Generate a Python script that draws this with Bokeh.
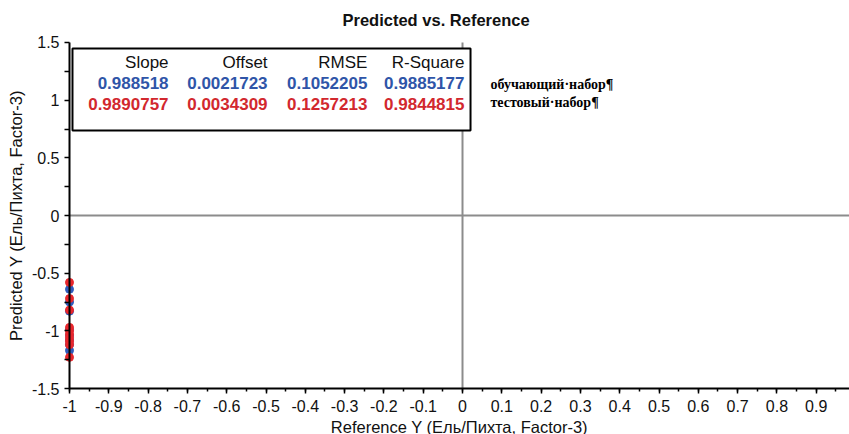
from bokeh.plotting import figure
from bokeh.models import FixedTicker, BoxAnnotation, Label
from bokeh.embed import file_html
from bokeh.resources import INLINE

# ---------------- data ----------------
title_text = "Predicted vs. Reference"
x_label = "Reference Y (Ель/Пихта, Factor-3)"
y_label = "Predicted Y (Ель/Пихта, Factor-3)"

x_ticks = [-1.0, -0.9, -0.8, -0.7, -0.6, -0.5, -0.4, -0.3, -0.2, -0.1,
           0.0, 0.1, 0.2, 0.3, 0.4, 0.5, 0.6, 0.7, 0.8, 0.9]
x_tick_labels = ["-1", "-0.9", "-0.8", "-0.7", "-0.6", "-0.5", "-0.4", "-0.3", "-0.2", "-0.1",
                 "0", "0.1", "0.2", "0.3", "0.4", "0.5", "0.6", "0.7", "0.8", "0.9"]
y_ticks = [-1.5, -1.0, -0.5, 0.0, 0.5, 1.0, 1.5]
y_tick_labels = ["-1.5", "-1", "-0.5", "0", "0.5", "1", "1.5"]

train_ref = [-1.0, -1.0, -1.0, -1.0, -1.0, -1.0, -1.0, -1.0]
train_pred = [-0.64, -0.75, -0.83, -0.99, -1.04, -1.08, -1.12, -1.17]
test_ref = [-1.0, -1.0, -1.0, -1.0, -1.0, -1.0, -1.0, -1.0, -1.0, -1.0]
test_pred = [-0.58, -0.72, -0.82, -0.97, -1.00, -1.03, -1.06, -1.09, -1.12, -1.23]

stat_names = ["Slope", "Offset", "RMSE", "R-Square"]
train_stats = ["0.988518", "0.0021723", "0.1052205", "0.9885177"]
test_stats = ["0.9890757", "0.0034309", "0.1257213", "0.9844815"]
set_names = ["обучающий·набор¶", "тестовый·набор¶"]

# ---------------- style ----------------
SANS = "Liberation Sans"
SERIF = "Liberation Serif"
BLUE = "#2f55a8"
RED = "#d2282e"
MBLUE = "#2f5bbd"
MRED = "#e8262c"

# the frame extends beyond the axes so that the axes (placed at fixed
# data locations) keep their labels inside the drawable frame
X_START, X_END = -1.1654, 0.9847
Y_START, Y_END = -1.8988, 1.5867
X_AXIS_MIN, Y_AXIS_MIN, Y_AXIS_MAX = -1.0, -1.5, 1.5

p = figure(width=849, height=434, x_range=(X_START, X_END), y_range=(Y_START, Y_END),
           output_backend="svg", toolbar_location=None,
           min_border_left=4, min_border_right=0, min_border_top=32, min_border_bottom=0)
p.outline_line_color = None
p.grid.visible = False
p.background_fill_color = "white"

p.title.text = title_text
p.title.text_font = SANS
p.title.text_font_size = "16.5px"
p.title.text_font_style = "bold"
p.title.text_color = "#111111"
p.title.align = "left"
p.title.offset = 338
p.title.standoff = 8

# x axis
xa = p.xaxis[0]
xa.fixed_location = Y_AXIS_MIN
xa.ticker = FixedTicker(ticks=x_ticks,
                        minor_ticks=[round(-1 + 0.05 * i, 2) for i in range(40)])
xa.major_label_overrides = dict(zip(x_ticks, x_tick_labels))
xa.bounds = (X_AXIS_MIN, X_END)
xa.axis_line_width = 2
xa.axis_line_color = "black"
xa.major_tick_in = 0
xa.major_tick_out = 5
xa.minor_tick_in = 0
xa.minor_tick_out = 3
xa.major_tick_line_width = 1.5
xa.minor_tick_line_width = 1.5
xa.major_label_text_font = SANS
xa.major_label_text_font_size = "16px"
xa.major_label_text_color = "#111111"
xa.major_label_standoff = 6
xa.axis_label = x_label
xa.axis_label_text_font = SANS
xa.axis_label_text_font_size = "16.5px"
xa.axis_label_text_font_style = "normal"
xa.axis_label_text_color = "#111111"
xa.axis_label_standoff = 3

# y axis
ya = p.yaxis[0]
ya.fixed_location = X_AXIS_MIN
ya.ticker = FixedTicker(ticks=y_ticks,
                        minor_ticks=[-1.25, -0.75, -0.25, 0.25, 0.75, 1.25])
ya.major_label_overrides = dict(zip(y_ticks, y_tick_labels))
ya.bounds = (Y_AXIS_MIN, Y_AXIS_MAX)
ya.axis_line_width = 2
ya.axis_line_color = "black"
ya.major_tick_in = 0
ya.major_tick_out = 5
ya.minor_tick_in = 0
ya.minor_tick_out = 5
ya.major_tick_line_width = 1.5
ya.minor_tick_line_width = 1.5
ya.major_label_text_font = SANS
ya.major_label_text_font_size = "16px"
ya.major_label_text_color = "#111111"
ya.major_label_standoff = 5
ya.axis_label = y_label
ya.axis_label_text_font = SANS
ya.axis_label_text_font_size = "16.5px"
ya.axis_label_text_font_style = "normal"
ya.axis_label_text_color = "#111111"
ya.axis_label_standoff = 4

# reference lines
p.segment(x0=[0.0], y0=[Y_AXIS_MIN], x1=[0.0], y1=[Y_AXIS_MAX], line_color="#8c8c8c", line_width=2)
p.segment(x0=[X_AXIS_MIN], y0=[0.0], x1=[X_END], y1=[0.0], line_color="#8c8c8c", line_width=2)

# points
p.scatter(train_ref, train_pred, size=8, color=MBLUE, line_color=MBLUE)
p.scatter(test_ref, test_pred, size=8, color=MRED, line_color=MRED)

# statistics box
p.add_layout(BoxAnnotation(left=-0.9924, right=0.0204, top=1.448, bottom=0.737,
                           fill_color="white", fill_alpha=1.0,
                           line_color="black", line_alpha=1.0, line_width=2))

col_right = [-0.748, -0.496, -0.242, 0.005]
row_y = [1.327, 1.153, 0.963]
for i, name in enumerate(stat_names):
    p.add_layout(Label(x=col_right[i], y=row_y[0], text=name, text_align="right",
                       text_baseline="middle", text_font=SANS, text_font_size="17px",
                       text_color="#111111"))
    p.add_layout(Label(x=col_right[i], y=row_y[1], text=train_stats[i], text_align="right",
                       text_baseline="middle", text_font=SANS, text_font_size="17px",
                       text_font_style="bold", text_color=BLUE))
    p.add_layout(Label(x=col_right[i], y=row_y[2], text=test_stats[i], text_align="right",
                       text_baseline="middle", text_font=SANS, text_font_size="17px",
                       text_font_style="bold", text_color=RED))

set_y = [1.136, 0.980]
for name, yy in zip(set_names, set_y):
    p.add_layout(Label(x=0.071, y=yy, text=name, text_align="left", text_baseline="middle",
                       text_font=SERIF, text_font_size="14px", text_font_style="bold",
                       text_color="black"))

open("out.html", "w").write(file_html(p, INLINE))
